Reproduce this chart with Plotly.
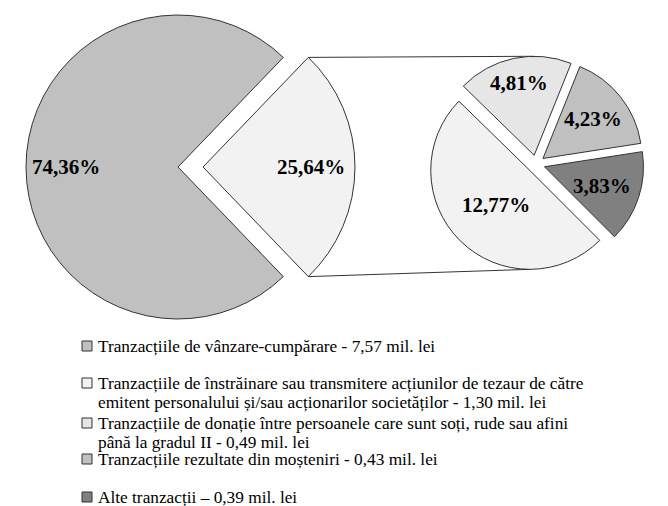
import math
import plotly.graph_objects as go

# ---- data ----
main_label = "Tranzacțiile de vânzare-cumpărare - 7,57 mil. lei"
main_value = 7.57
main_pct = "74,36%"
other_pct = "25,64%"

sub_labels = [
    "Tranzacțiile de înstrăinare sau transmitere acțiunilor de tezaur de către<br>emitent personalului și/sau acționarilor societăților - 1,30 mil. lei",
    "Tranzacțiile de donație între persoanele care sunt soți, rude sau afini<br>până la gradul II - 0,49 mil. lei",
    "Tranzacțiile rezultate din moșteniri - 0,43 mil. lei",
    "Alte tranzacții – 0,39 mil. lei",
]
sub_values = [1.30, 0.49, 0.43, 0.39]
sub_pcts = ["12,77%", "4,81%", "4,23%", "3,83%"]

# ---- style ----
OFF = 8  # page body margin
W, H = 668 - OFF, 506 - OFF
FONT = "Liberation Serif, Times New Roman, serif"
main_color = "#c0c0c0"
other_color = "#f2f2f2"
sub_colors = ["#f2f2f2", "#e6e6e6", "#c0c0c0", "#808080"]
edge = "#333333"

# geometry (window pixels)
C1 = (178, 167); R1 = 152; EXPLODE = 25
C2 = (536, 164); R2 = 99; PULL2 = 0.09


def px(x):
    return (x - OFF) / W


def py(y):
    return 1 - (y - OFF) / H


def dom(cx, cy, half):
    return dict(x=[px(cx - half), px(cx + half)], y=[py(cy + half), py(cy - half)])


def pt(c, r, ang):
    a = math.radians(ang)
    return (c[0] + r * math.sin(a), c[1] - r * math.cos(a))


other_value = sum(sub_values)
total = main_value + other_value
other_ang = other_value / total * 360
rot1 = 90 - other_ang / 2

fig = go.Figure()
# main pie (only the big slice visible)
fig.add_trace(go.Pie(
    values=[other_value, main_value], sort=False, direction="clockwise", rotation=rot1,
    marker=dict(colors=["rgba(0,0,0,0)", main_color],
                line=dict(color=edge, width=[0, 1])),
    textinfo="none", hoverinfo="skip", showlegend=False,
    domain=dom(C1[0], C1[1], R1),
))
# exploded slice
C1e = (C1[0] + EXPLODE, C1[1])
fig.add_trace(go.Pie(
    values=[other_value, main_value], sort=False, direction="clockwise", rotation=rot1,
    marker=dict(colors=[other_color, "rgba(0,0,0,0)"],
                line=dict(color=edge, width=[1, 0])),
    textinfo="none", hoverinfo="skip", showlegend=False,
    domain=dom(C1e[0], C1e[1], R1),
))
# secondary pie
rot2 = 135
fig.add_trace(go.Pie(
    values=sub_values, sort=False, direction="clockwise", rotation=rot2,
    pull=[PULL2] * len(sub_values),
    marker=dict(colors=sub_colors, line=dict(color=edge, width=1)),
    textinfo="none", hoverinfo="skip", showlegend=False,
    domain=dom(C2[0], C2[1], R2 * (1 + PULL2)),
))

annotations = []
shapes = []


def label(p, text):
    annotations.append(dict(x=px(p[0]), y=py(p[1]), text="<b>%s</b>" % text, showarrow=False,
                            xref="paper", yref="paper", xanchor="center", yanchor="middle",
                            font=dict(family=FONT, size=21, color="black")))


# labels for big pie
label(pt(C1, 0.74 * R1, rot1 + other_ang + (360 - other_ang) / 2), main_pct)
label(pt(C1e, 0.71 * R1, 90), other_pct)

# labels for sub pie
fracs = [0.49, 0.75, 0.64, 0.61]
sub_total = sum(sub_values)
start = rot2
apexes = []
for v, t, f in zip(sub_values, sub_pcts, fracs):
    span = v / sub_total * 360
    mid = start + span / 2
    apex = pt(C2, PULL2 * R2, mid)
    apexes.append(apex)
    label(pt(apex, f * R2, mid), t)
    start += span

# connector lines
top_a = pt(C1e, R1, rot1)
bot_a = pt(C1e, R1, rot1 + other_ang)
top_b = pt(apexes[1], R2, 0)
bot_b = pt(apexes[0], R2, 180)
for a, b in [(top_a, top_b), (bot_a, bot_b)]:
    shapes.append(dict(type="line", xref="paper", yref="paper",
                       x0=px(a[0]), y0=py(a[1]), x1=px(b[0]), y1=py(b[1]),
                       line=dict(color=edge, width=1), layer="below"))

# legend (manual)
leg_labels = [main_label] + sub_labels
leg_colors = [main_color] + sub_colors
leg_y = [346, 383, 423, 459, 497]
LINE_H = 19
for lab, col, y in zip(leg_labels, leg_colors, leg_y):
    shapes.append(dict(type="rect", xref="paper", yref="paper",
                       x0=px(82), x1=px(92), y0=py(y + 5), y1=py(y - 5),
                       fillcolor=col, line=dict(color=edge, width=1)))
    for i, line in enumerate(lab.split("<br>")):
        annotations.append(dict(x=px(96), y=py(y + i * LINE_H), text=line, showarrow=False,
                                xref="paper", yref="paper", xanchor="left", yanchor="middle",
                                font=dict(family=FONT, size=17.3, color="black")))

fig.update_layout(
    width=W, height=H, margin=dict(l=0, r=0, t=0, b=0),
    paper_bgcolor="white", plot_bgcolor="white",
    annotations=annotations, shapes=shapes, showlegend=False,
)
fig.write_html("out.html")
